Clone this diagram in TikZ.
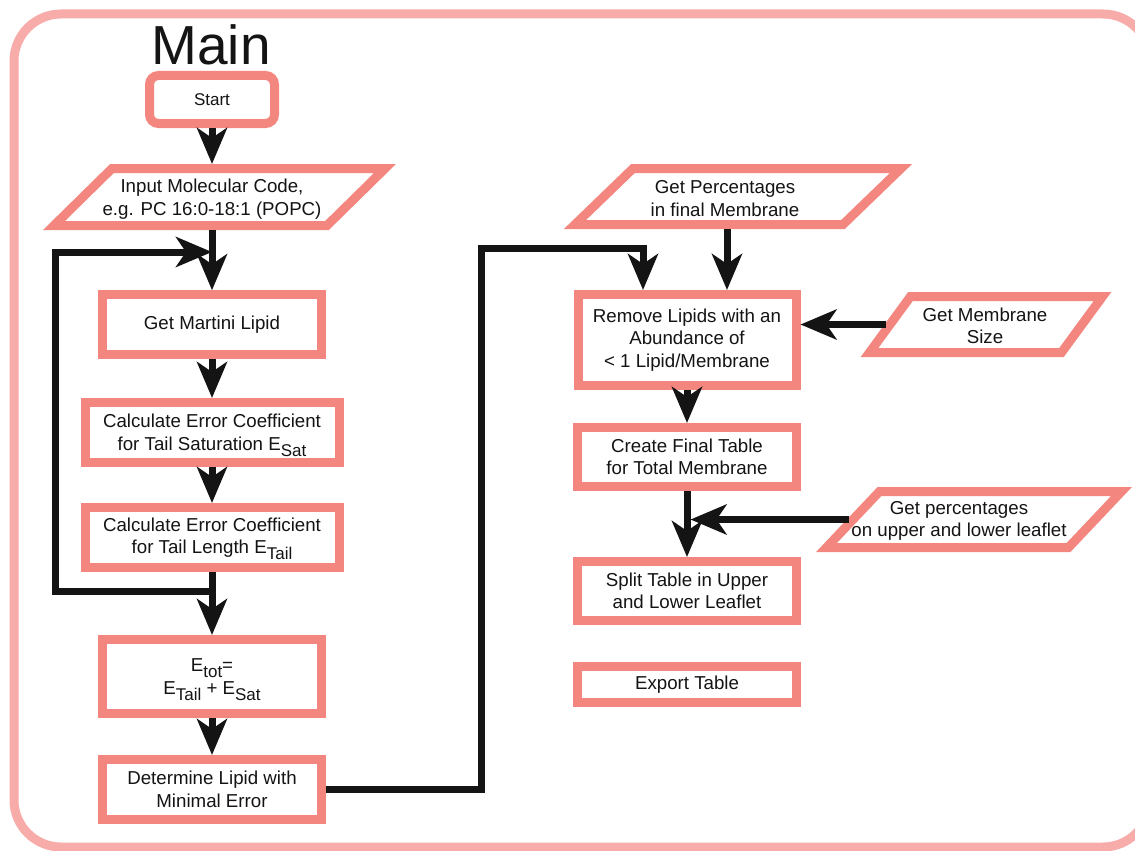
\documentclass[tikz,border=0pt]{standalone}
\usepackage{fontspec}
\setmainfont{Liberation Sans}
\usetikzlibrary{arrows.meta,calc}
\definecolor{boxc}{RGB}{243,135,128}
\definecolor{framec}{RGB}{247,172,169}
\definecolor{ink}{RGB}{20,20,20}
\newcommand\lsub[1]{\raisebox{-6pt}[0pt][0pt]{\fontsize{17}{17}\selectfont #1}}
% parallelogram: name, cx, cy, W, H, dx
\newcommand\para[6]{%
  \draw[pbord] (#2-#4/2+#6/2,#3-#5/2) -- (#2+#4/2+#6/2,#3-#5/2) -- (#2+#4/2-#6/2,#3+#5/2) -- (#2-#4/2-#6/2,#3+#5/2) -- cycle;
  \node[pnode, minimum width=#4pt, minimum height=#5pt] (#1) at (#2,#3) {};
}
\begin{document}
\begin{tikzpicture}[x=1pt,y=-1pt,
  box/.style={draw=boxc, line width=9pt, fill=white, inner sep=0pt, align=center, text=ink, font=\fontsize{18.7}{22.5}\selectfont},
  pnode/.style={draw=none, inner sep=0pt, outer sep=4.5pt},
  pbord/.style={draw=boxc, line width=9pt, fill=white, line join=miter},
  ptext/.style={inner sep=0pt, align=center, text=ink, font=\fontsize{18.7}{22.5}\selectfont},
  arr/.style={draw=ink, line width=7pt, line join=miter, -{Stealth[length=36pt,width=30pt,inset=10pt]}}
]
\useasboundingbox (0,0) rectangle (1135,851);
\draw[framec, line width=9pt, rounded corners=47pt] (14,14) rectangle (1150,847);

\node[font=\fontsize{55}{60}\selectfont, text=ink, anchor=base, inner sep=0pt] (title) at (211,65) {Main};

% input / output shapes
\para{in}{219.5}{197}{273}{57}{58}
\para{pct}{738}{196.5}{268}{56}{58}
\para{ms}{986}{324.5}{192}{56}{41}
\para{lf}{974}{519.5}{242}{56}{53}
\node[ptext] (intxt) at (212,199) {Input Molecular Code,\\e.g. PC 16:0-18:1 (POPC)};
\node[ptext] (pcttxt) at (725,198.5) {Get Percentages\\in final Membrane};
\node[ptext] (mstxt) at (985,326) {Get Membrane\\Size};
\node[ptext] (lftxt) at (959,521) {Get percentages\\on upper and lower leaflet};

% process boxes, left column
\node[box, rounded corners=9pt, minimum width=125pt, minimum height=48pt, font=\fontsize{17}{20}\selectfont] (start) at (212,99.5) {Start};
\node[box, minimum width=219pt, minimum height=59.5pt] (mart) at (212,324.5) {Get Martini Lipid};
\node[box, minimum width=254pt, minimum height=60pt] (sat) at (212,432.5) {Calculate Error Coefficient\\for Tail Saturation E\lsub{Sat}};
\node[box, minimum width=254pt, minimum height=60pt] (tail) at (212,537.5) {Calculate Error Coefficient\\for Tail Length E\lsub{Tail}};
\node[box, minimum width=219pt, minimum height=74pt] (etot) at (212,676.5) {E\lsub{tot}=\\E\lsub{Tail} + E\lsub{Sat}};
\node[box, minimum width=219pt, minimum height=60pt] (det) at (212,789.5) {Determine Lipid with\\Minimal Error};

% process boxes, right column
\node[box, minimum width=218pt, minimum height=91pt] (rem) at (687,340) {Remove Lipids with an\\Abundance of\\< 1 Lipid/Membrane};
\node[box, minimum width=219pt, minimum height=59pt] (cft) at (687,457) {Create Final Table\\for Total Membrane};
\node[box, minimum width=219pt, minimum height=59pt] (split) at (687,591) {Split Table in Upper\\and Lower Leaflet};
\node[box, minimum width=219pt, minimum height=36pt] (exp) at (687,684.5) {Export Table};

% connectors
\coordinate (lpb) at (55,591);
\coordinate (lpt) at (55,252);
\coordinate (r1) at (481,248);
\coordinate (remB) at ([xshift=-44pt]rem.north);
\coordinate (remA) at ([xshift=40pt]rem.north);

\draw[arr] (start) -- (start |- in.north);
\draw[arr] (mart |- in.south) -- (mart);
\draw[arr] (mart) -- (sat);
\draw[arr] (sat) -- (tail);
\draw[arr] (tail.south |- lpb) -- (lpb) -- (lpt) -- (lpt -| mart.north);
\draw[arr] (tail) -- (etot);
\draw[arr] (etot) -- (det);
\draw[arr] (det.east) -| (r1) -| (remB);
\draw[arr] (remA |- pct.south) -- (remA);
\draw[arr] (ms.west) -- (ms.west -| rem.east);
\draw[arr] (rem) -- (cft);
\draw[arr] (cft) -- (split);
\draw[arr, shorten >=3.5pt] (lf.west) -- (lf.west -| cft.south);
\end{tikzpicture}
\end{document}
